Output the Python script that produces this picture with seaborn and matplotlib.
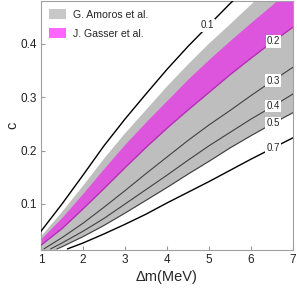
import numpy as np
import pandas as pd
import matplotlib
matplotlib.use("Agg")
import matplotlib.pyplot as plt
import seaborn as sns
from matplotlib.patches import Patch

# grid of mass differences (MeV)
dm = [1.0, 1.5, 2.0, 2.5, 3.0, 3.5, 4.0, 4.5, 5.0, 5.5, 6.0, 6.5, 7.0]

# bands
amoros_hi = [0.041, 0.087, 0.136, 0.187, 0.234, 0.278, 0.322, 0.363, 0.402, 0.438, 0.475, 0.510, 0.545]
amoros_lo = [0.002, 0.020, 0.039, 0.060, 0.083, 0.107, 0.131, 0.156, 0.180, 0.205, 0.228, 0.250, 0.271]
gasser_hi = [0.035, 0.075, 0.120, 0.167, 0.212, 0.254, 0.294, 0.334, 0.371, 0.406, 0.440, 0.473, 0.507]
gasser_lo = [0.023, 0.054, 0.091, 0.129, 0.168, 0.206, 0.242, 0.276, 0.309, 0.342, 0.373, 0.403, 0.431]

# contour lines
dm_01 = [1.0, 1.5, 2.0, 2.5, 3.0, 3.5, 4.0, 4.5, 5.0, 5.5, 6.0]
c_01 = [0.049, 0.100, 0.154, 0.209, 0.259, 0.306, 0.352, 0.395, 0.435, 0.475, 0.512]
dm_03 = [1.07, 1.5, 2.0, 2.5, 3.0, 3.5, 4.0, 4.5, 5.0, 5.5, 6.0, 6.5, 7.0]
c_03 = [0.016, 0.037, 0.064, 0.094, 0.125, 0.157, 0.188, 0.219, 0.248, 0.275, 0.303, 0.330, 0.356]
dm_04 = [1.23, 1.5, 2.0, 2.5, 3.0, 3.5, 4.0, 4.5, 5.0, 5.5, 6.0, 6.5, 7.0]
c_04 = [0.016, 0.027, 0.049, 0.073, 0.100, 0.127, 0.154, 0.182, 0.209, 0.234, 0.259, 0.282, 0.306]
dm_05 = [1.38, 1.5, 2.0, 2.5, 3.0, 3.5, 4.0, 4.5, 5.0, 5.5, 6.0, 6.5, 7.0]
c_05 = [0.016, 0.020, 0.039, 0.060, 0.083, 0.107, 0.131, 0.156, 0.180, 0.205, 0.228, 0.250, 0.271]
dm_07 = [1.63, 2.0, 2.5, 3.0, 3.5, 4.0, 4.5, 5.0, 5.5, 6.0, 6.5, 7.0]
c_07 = [0.016, 0.027, 0.044, 0.062, 0.081, 0.102, 0.122, 0.142, 0.163, 0.184, 0.204, 0.224]

labels = ["0.1", "0.2", "0.3", "0.4", "0.5", "0.7"]
label_x = [4.95, 6.53, 6.52, 6.52, 6.52, 6.52]
label_y = [0.434, 0.404, 0.331, 0.283, 0.251, 0.204]

sns.set_theme(style="white")
plt.rcParams['font.family'] = ['Liberation Sans', 'DejaVu Sans']

fig = plt.figure(figsize=(2.97, 2.92), dpi=100)
ax = fig.add_axes([0.138, 0.144, 0.849, 0.853])

ax.fill_between(dm, amoros_lo, amoros_hi, color='#bebebe', lw=0, zorder=1)
ax.fill_between(dm, gasser_lo, gasser_hi, color='#dd55dd', lw=0, zorder=2)

sns.lineplot(x=dm_01, y=c_01, color='black', lw=1.0, ax=ax, zorder=3)
sns.lineplot(x=dm, y=gasser_lo, color='#b030b0', lw=0.9, ax=ax, zorder=3)
for xs, ys in [(dm_03, c_03), (dm_04, c_04), (dm_05, c_05)]:
    sns.lineplot(x=xs, y=ys, color='#404040', lw=0.8, ax=ax, zorder=3)
sns.lineplot(x=dm_07, y=c_07, color='black', lw=1.0, ax=ax, zorder=3)

for t, x, y in zip(labels, label_x, label_y):
    ax.text(x, y, t, fontsize=7, ha='center', va='center', zorder=4,
            bbox=dict(facecolor='white', edgecolor='none', pad=0.8))

ax.set_xlim(1, 7)
ax.set_ylim(0.014, 0.48)
ax.set_xticks([1, 2, 3, 4, 5, 6, 7])
ax.set_yticks([0.1, 0.2, 0.3, 0.4])
ax.set_xticklabels(['1', '2', '3', '4', '5', '6', '7'])
ax.set_yticklabels(['0.1', '0.2', '0.3', '0.4'])
ax.tick_params(direction='in', length=3, width=0.8, color='#999999',
               labelsize=8.5, labelcolor='#222222', pad=3, bottom=True, left=True)
for s in ax.spines.values():
    s.set_color('#a0a0a0')
    s.set_linewidth(0.8)

ax.set_xlabel('Δm(MeV)', fontsize=10.5, labelpad=3)
ax.set_ylabel('c', fontsize=10.5, labelpad=1)

handles = [Patch(facecolor='#c8c8c8', edgecolor='none', label='G. Amoros et al.'),
           Patch(facecolor='#ff66ff', edgecolor='none', label='J. Gasser et al.')]
ax.legend(handles=handles, loc='upper left', frameon=False, fontsize=7.6,
          handlelength=1.6, handleheight=1.1, labelspacing=0.75,
          handletextpad=0.6, borderaxespad=0.5, borderpad=0.3)

fig.savefig('out.png', dpi=100)
